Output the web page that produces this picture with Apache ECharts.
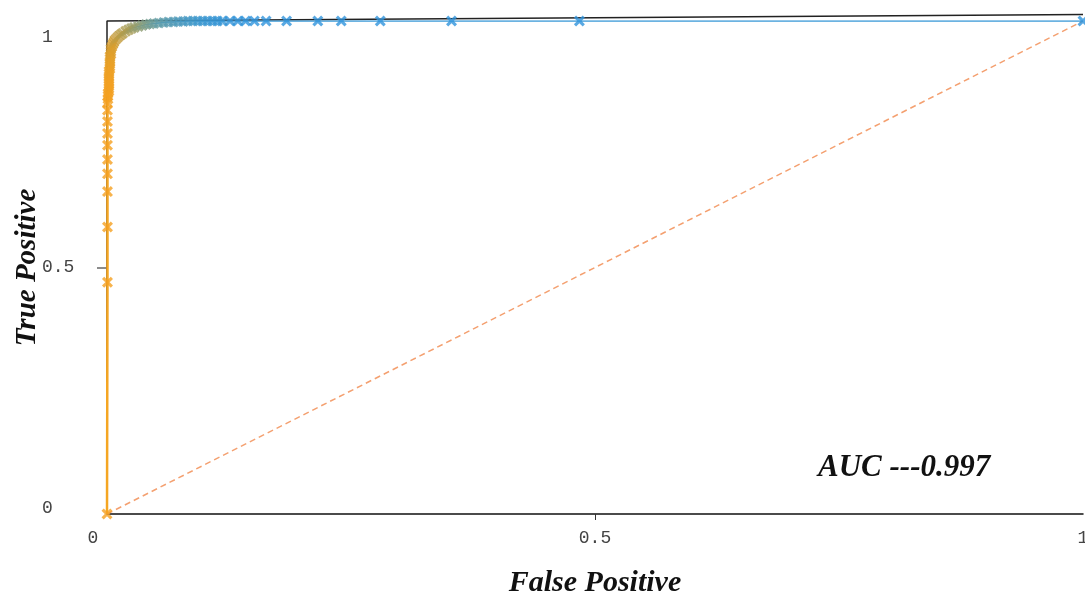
<!DOCTYPE html>
<html>
<head>
<meta charset="utf-8">
<script src="https://cdn.jsdelivr.net/npm/echarts@6/dist/echarts.min.js"></script>
<style>
html,body{margin:0;padding:0;background:#fff;}
#chart{width:1085px;height:595px;}
</style>
</head>
<body>
<div id="chart"></div>
<script>
// ROC curve points (false positive rate, true positive rate)
var fpr = [0,0.0005,0.0005,0.0005,0.0005,0.0005,0.0005,0.0005,0.0005,0.0005,0.0005,
  0.001,0.001,0.001,0.002,0.002,0.002,0.002,0.002,0.002,0.002,0.002,0.002,
  0.003,0.003,0.003,0.003,0.003,0.003,0.004,0.004,0.004,0.005,0.006,0.007,
  0.008,0.010,0.012,0.014,0.016,0.019,0.022,0.025,0.028,0.032,0.036,0.040,
  0.044,0.048,0.053,0.058,0.063,0.068,0.073,0.078,0.083,0.088,0.093,0.098,
  0.103,0.108,0.113,0.118,0.126,0.134,0.142,0.151,0.163,0.184,0.216,0.240,
  0.280,0.353,0.484,1];
var tpr = [0,0.470,0.582,0.654,0.690,0.719,0.748,0.772,0.796,0.819,0.834,
  0.842,0.848,0.853,0.858,0.863,0.868,0.873,0.878,0.883,0.888,0.893,0.898,
  0.903,0.908,0.913,0.918,0.923,0.928,0.933,0.938,0.943,0.948,0.953,0.957,
  0.961,0.965,0.969,0.972,0.975,0.979,0.982,0.985,0.987,0.989,0.991,0.993,
  0.994,0.995,0.996,0.997,0.998,0.998,0.999,0.999,1,1,1,1,
  1,1,1,1,1,1,1,1,1,1,1,1,
  1,1,1,1];
// reference lines
var chanceLine = [[0,0],[1,1]];
var idealLine = [[0,0],[0,1],[1,1.013]];
var xTicks = [0, 0.5, 1];
var yTicks = [0, 0.5, 1];
var tickMarks = [0.5];
var aucText = 'AUC ---0.997';
var xTitle = 'False Positive';
var yTitle = 'True Positive';

var rocPts = fpr.map(function(v,i){ return [v, tpr[i], i]; });
var splitIdx = 33;
var lowerPart = rocPts.slice(0, splitIdx + 1);
var upperPart = rocPts.slice(splitIdx);

var xSym = 'path://M2,0 L5,3 L8,0 L10,2 L7,5 L10,8 L8,10 L5,7 L2,10 L0,8 L3,5 L0,2 Z';
var serif = '"Liberation Serif", "DejaVu Serif", serif';
var mono = '"Liberation Mono", "DejaVu Sans Mono", monospace';
var lblFs = 18;

var chart = echarts.init(document.getElementById('chart'));
chart.setOption({
  animation: false,
  backgroundColor: '#fff',
  grid: {left: 107, right: 2, top: 21, bottom: 81, containLabel: false, outerBoundsMode: 'none'},
  xAxis: {
    type: 'value', min: 0, max: 1, interval: 0.5,
    name: xTitle, nameLocation: 'middle', nameGap: 54, nameMoveOverlap: false,
    nameTextStyle: {fontFamily: serif, fontSize: 30, fontWeight: 'bold', fontStyle: 'italic', color: '#111'},
    axisLine: {show: true, lineStyle: {color: '#111', width: 1.5}},
    axisTick: {show: true, length: 6, customValues: tickMarks, lineStyle: {color: '#333'}},
    splitLine: {show: false},
    axisLabel: {
      margin: 15, color: '#444', fontFamily: mono, fontSize: lblFs, customValues: xTicks,
      formatter: function(v){ if (v === 0) return '{l|0}'; if (v === 1) return '{r|1}'; return '{n|' + v + '}'; },
      rich: {l: {padding: [0, 28, 0, 0], fontFamily: mono, fontSize: lblFs, color: '#444'},
             r: {fontFamily: mono, fontSize: lblFs, color: '#444'},
             n: {fontFamily: mono, fontSize: lblFs, color: '#444'}}
    }
  },
  yAxis: {
    type: 'value', min: 0, max: 1, interval: 0.5,
    name: yTitle, nameLocation: 'middle', nameGap: 65, nameRotate: 90, nameMoveOverlap: false,
    nameTextStyle: {fontFamily: serif, fontSize: 29, fontWeight: 'bold', fontStyle: 'italic', color: '#111'},
    axisLine: {show: false},
    axisTick: {show: true, length: 10, customValues: tickMarks, lineStyle: {color: '#666', width: 1.5}},
    splitLine: {show: false},
    axisLabel: {
      margin: 65, align: 'left', color: '#444', fontFamily: mono, fontSize: lblFs, customValues: yTicks,
      formatter: function(v){ if (v === 1) return '{t|1}'; if (v === 0) return '{b|0}'; return '{n|' + v + '}'; },
      rich: {t: {padding: [32, 0, 0, 0], fontFamily: mono, fontSize: lblFs, color: '#444'},
             b: {padding: [0, 0, 12, 0], fontFamily: mono, fontSize: lblFs, color: '#444'},
             n: {fontFamily: mono, fontSize: lblFs, color: '#444'}}
    }
  },
  visualMap: [{
    type: 'continuous', show: false, seriesIndex: 4, dimension: 2,
    min: 0, max: fpr.length - 1,
    inRange: {color: ['#f5a020', '#f5a020', '#f3a022', '#eba025', '#d89f30', '#a89c55', '#5e9ca8', '#3a97d0', '#2f93dc', '#2f93dc']}
  }],
  series: [
    {type: 'line', data: idealLine, symbol: 'none', clip: false, z: 1,
     lineStyle: {color: '#222', width: 1.5}, silent: true},
    {type: 'line', data: chanceLine, symbol: 'none', z: 2,
     lineStyle: {color: '#f4a070', width: 1.5, type: [6, 4]}, silent: true},
    {type: 'line', data: lowerPart, symbol: 'none', z: 3,
     lineStyle: {color: '#f5a623', width: 2.5}},
    {type: 'line', data: upperPart, symbol: 'none', z: 3,
     lineStyle: {color: '#3d9ad8', width: 1.5}},
    {type: 'scatter', data: rocPts, symbol: xSym, symbolSize: 11, z: 4}
  ],
  graphic: [{
    type: 'text', left: 818, top: 452,
    style: {text: aucText, font: 'italic bold 31px ' + serif, fill: '#111'}
  }]
});
</script>
</body>
</html>
